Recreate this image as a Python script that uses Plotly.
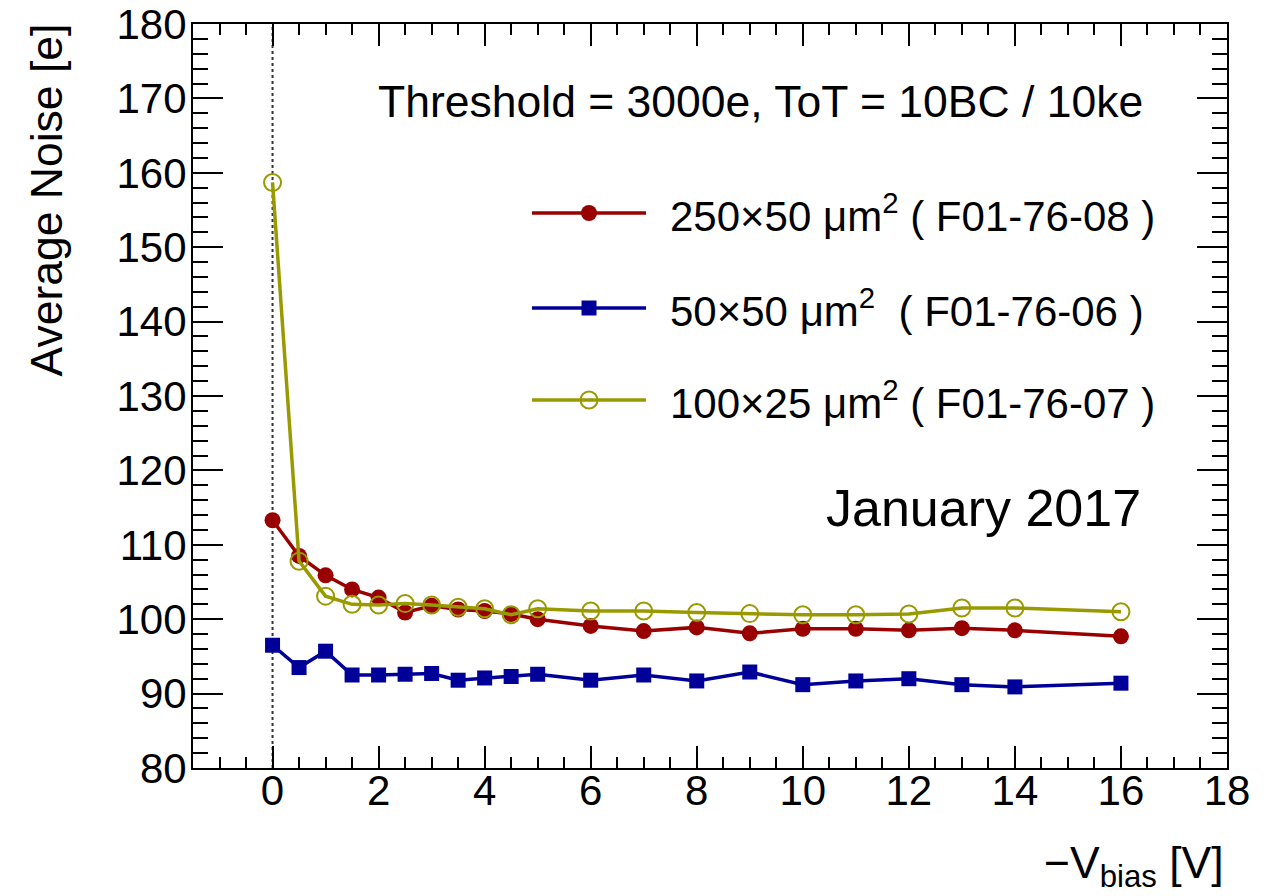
import plotly.graph_objects as go

# ---------------- data ----------------
vbias = [0, 0.5, 1, 1.5, 2, 2.5, 3, 3.5, 4, 4.5, 5, 6, 7, 8, 9, 10, 11, 12, 13, 14, 16]
noise_250x50 = [113.3, 108.5, 105.9, 104.0, 102.9, 100.9, 101.8, 101.3, 101.1, 100.7, 100.0,
                99.1, 98.4, 98.9, 98.1, 98.7, 98.7, 98.5, 98.8, 98.5, 97.7]
noise_50x50 = [96.5, 93.5, 95.7, 92.5, 92.5, 92.6, 92.7, 91.8, 92.1, 92.3, 92.6,
               91.8, 92.5, 91.7, 92.9, 91.2, 91.7, 92.0, 91.2, 90.9, 91.4]
noise_100x25 = [158.7, 107.8, 103.1, 102.0, 101.9, 102.1, 101.9, 101.6, 101.4, 100.6, 101.4,
                101.1, 101.1, 100.9, 100.75, 100.6, 100.6, 100.7, 101.5, 101.5, 101.0]

series_names = ["250×50 μm<sup>2</sup> ( F01-76-08 )",
                "50×50 μm<sup>2</sup>  ( F01-76-06 )",
                "100×25 μm<sup>2</sup> ( F01-76-07 )"]

# ---------------- style ----------------
RED = "#990000"
BLUE = "#000099"
OLIVE = "#999900"
FONT = "Liberation Sans, Arial, Helvetica, sans-serif"

L, R, T, B = 193, 48, 24, 128
W, H = 1275, 896
PW, PH = W - L - R, H - T - B


def px(xp):
    return (xp - L) / PW


def py(yp):
    return (H - B - yp) / PH


fig = go.Figure()

fig.add_trace(go.Scatter(x=vbias, y=noise_250x50, mode="lines+markers",
                         line=dict(color=RED, width=3.5),
                         marker=dict(symbol="circle", size=16, color=RED),
                         showlegend=False))
fig.add_trace(go.Scatter(x=vbias, y=noise_50x50, mode="lines+markers",
                         line=dict(color=BLUE, width=3.5),
                         marker=dict(symbol="square", size=15, color=BLUE),
                         showlegend=False))
fig.add_trace(go.Scatter(x=vbias, y=noise_100x25, mode="lines+markers",
                         line=dict(color=OLIVE, width=3.5),
                         marker=dict(symbol="circle-open", size=17, color=OLIVE,
                                     line=dict(width=2, color=OLIVE)),
                         showlegend=False))

# ---------------- manual legend (overlay axes 0..1) ----------------
leg_rows = [213, 308, 400]
leg_x0, leg_xc, leg_x1 = 532, 589, 646
leg_styles = [
    dict(color=RED, symbol="circle", size=16, line=dict(width=0, color=RED)),
    dict(color=BLUE, symbol="square", size=15, line=dict(width=0, color=BLUE)),
    dict(color=OLIVE, symbol="circle-open", size=17, line=dict(width=2, color=OLIVE)),
]
for row, st, name in zip(leg_rows, leg_styles, series_names):
    fig.add_trace(go.Scatter(
        x=[px(leg_x0), px(leg_x1)], y=[py(row)] * 2,
        xaxis="x2", yaxis="y2", mode="lines",
        line=dict(color=st["color"], width=3.5),
        showlegend=False, hoverinfo="skip"))
    fig.add_trace(go.Scatter(
        x=[px(leg_xc)], y=[py(row)],
        xaxis="x2", yaxis="y2", mode="markers",
        marker=dict(symbol=st["symbol"], size=st["size"], color=st["color"],
                    line=st["line"], opacity=1),
        showlegend=False, hoverinfo="skip"))
    fig.add_annotation(x=px(668), y=py(row), xref="paper", yref="paper",
                       text=name, showarrow=False, xanchor="left", yanchor="middle",
                       font=dict(family=FONT, size=42, color="black"))

# dotted line at V=0
fig.add_shape(type="line", x0=0, x1=0, y0=80, y1=180, xref="x", yref="y",
              line=dict(color="#333333", width=2, dash="dot"), layer="below")

# texts
fig.add_annotation(x=px(376), y=py(101), xref="paper", yref="paper",
                   text="Threshold = 3000e, ToT = 10BC / 10ke", showarrow=False,
                   xanchor="left", yanchor="middle",
                   font=dict(family=FONT, size=44.5, color="black"))
fig.add_annotation(x=px(1143), y=py(508), xref="paper", yref="paper",
                   text="January 2017", showarrow=False,
                   xanchor="right", yanchor="middle",
                   font=dict(family=FONT, size=52, color="black"))
fig.add_annotation(x=px(1226), y=py(866), xref="paper", yref="paper",
                   text="−V<sub>bias</sub> [V]", showarrow=False,
                   xanchor="right", yanchor="middle",
                   font=dict(family=FONT, size=44.5, color="black"))
fig.add_annotation(x=px(46), y=py(22), xref="paper", yref="paper",
                   text="Average Noise [e]", showarrow=False, textangle=-90,
                   xanchor="center", yanchor="top",
                   font=dict(family=FONT, size=44.5, color="black"))

axis_common = dict(showgrid=False, zeroline=False, showline=True, linecolor="black",
                   linewidth=2, mirror="allticks", ticks="inside", tickcolor="black",
                   tickwidth=2, automargin=False,
                   tickfont=dict(family=FONT, size=42, color="black"))

fig.update_layout(
    width=W, height=H,
    margin=dict(l=L, r=R, t=T, b=B, autoexpand=False),
    paper_bgcolor="white", plot_bgcolor="white",
    showlegend=False,
    xaxis=dict(range=[-1.5, 18], tickmode="linear", tick0=0, dtick=2, ticklen=22,
               minor=dict(dtick=0.5, tick0=0, ticklen=11, ticks="inside",
                          tickcolor="black", tickwidth=2),
               ticklabelstandoff=-15, **axis_common),
    yaxis=dict(range=[80, 180], tickmode="linear", tick0=80, dtick=10, ticklen=30,
               minor=dict(dtick=2, tick0=80, ticklen=15, ticks="inside",
                          tickcolor="black", tickwidth=2),
               ticklabelstandoff=-4, **axis_common),
    xaxis2=dict(range=[0, 1], overlaying="x", anchor="y2", visible=False),
    yaxis2=dict(range=[0, 1], overlaying="y", anchor="x2", visible=False),
)

fig.write_html("out.html")
